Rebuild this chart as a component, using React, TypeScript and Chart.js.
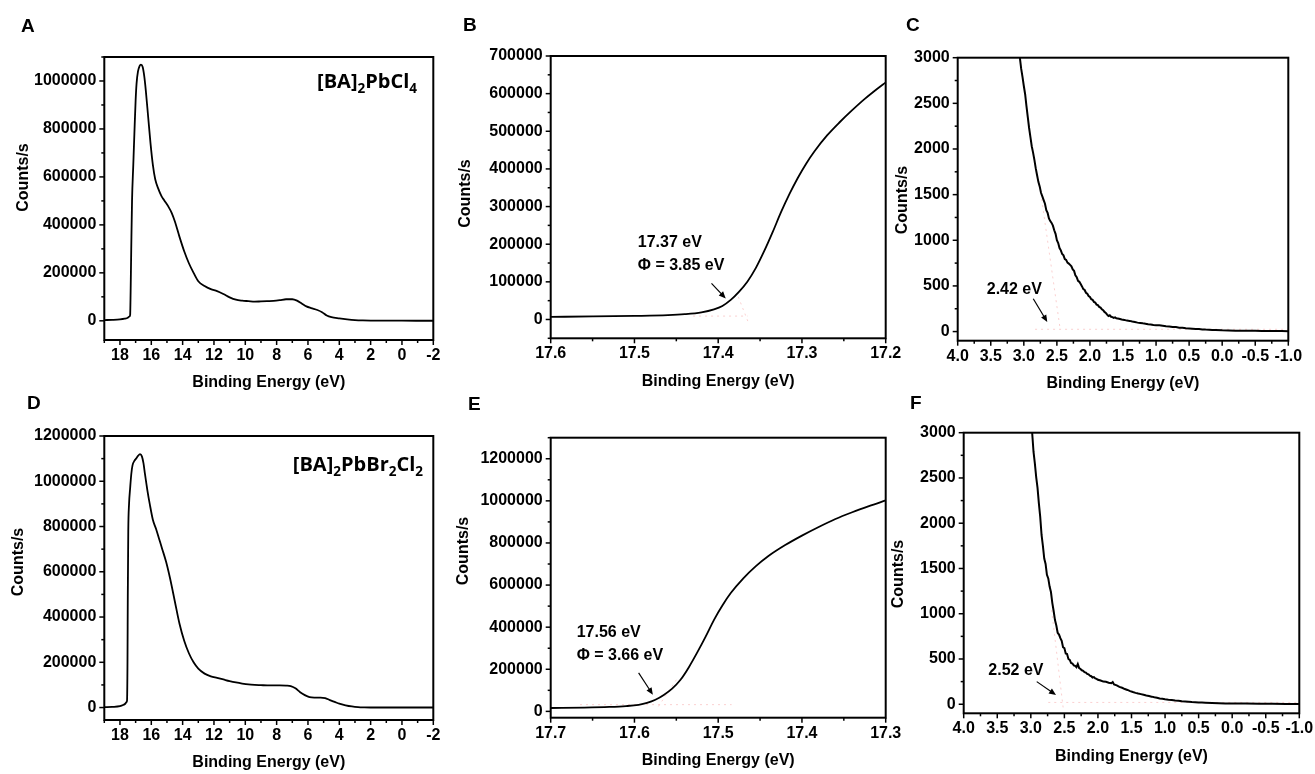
import React, { useEffect, useRef } from 'react';
import { Chart, registerables } from 'chart.js';
Chart.register(...registerables);

const FONT = 'Arial, "Liberation Sans", Helvetica, sans-serif';
const LABEL_FONT = '"Open Sans", Lato, sans-serif';

// ---------- Panel A : [BA]2PbCl4 full spectrum ----------
const energyA = [19.0, 18.5, 18.0, 17.7, 17.5, 17.4, 17.35, 17.32, 17.28, 17.23, 17.15, 17.08, 17.0, 16.94, 16.85, 16.75, 16.66, 16.55, 16.45, 16.35, 16.2, 16.05, 15.9, 15.75, 15.55, 15.35, 15.15, 14.9, 14.7, 14.5, 14.2, 13.9, 13.6, 13.3, 13.0, 12.6, 12.2, 11.8, 11.4, 11.0, 10.6, 10.2, 9.8, 9.4, 9.0, 8.6, 8.2, 7.8, 7.4, 7.0, 6.7, 6.4, 6.1, 5.8, 5.4, 5.1, 4.8, 4.5, 4.0, 3.5, 3.0, 2.5, 2.0, 1.0, 0.0, -2.0];
const countsA = [3000, 4000, 6000, 9000, 13000, 18000, 25000, 120000, 300000, 500000, 650000, 780000, 920000, 990000, 1040000, 1062000, 1068000, 1058000, 1020000, 960000, 850000, 740000, 650000, 590000, 550000, 520000, 500000, 475000, 450000, 415000, 350000, 290000, 240000, 200000, 165000, 145000, 132000, 124000, 112000, 98000, 88000, 84000, 82000, 80000, 81000, 82000, 83000, 86000, 90000, 90000, 84000, 72000, 60000, 53000, 45000, 36000, 22000, 15000, 10000, 6000, 3000, 1500, 800, 500, 400, 300];

// ---------- Panel B : [BA]2PbCl4 cut-off edge ----------
const energyB = [17.6, 17.55, 17.5, 17.46, 17.44, 17.42, 17.405, 17.395, 17.385, 17.375, 17.365, 17.355, 17.345, 17.335, 17.325, 17.315, 17.305, 17.295, 17.285, 17.27, 17.255, 17.24, 17.225, 17.21, 17.2];
const countsB = [7000, 8000, 9500, 11500, 14000, 19000, 27000, 36000, 52000, 74000, 101000, 137000, 182000, 232000, 285000, 333000, 376000, 414000, 447000, 489000, 524000, 556000, 586000, 613000, 630000];
// faint fitting guides (baseline and tangent) of the cut-off
const baselineB: [number, number][] = [[17.43, 9000], [17.365, 9000]];
const tangentB: [number, number][] = [[17.376, 60000], [17.364, -8000]];

// ---------- Panel C : [BA]2PbCl4 valence band onset (energy, counts) ----------
const spectrumC: [number, number][] = [
  [3.06, 3000], [3.04, 2880], [3.02, 2790], [3.0, 2690], [2.98, 2600], [2.96, 2470], [2.94, 2350], [2.92, 2230],
  [2.9, 2130], [2.88, 2030], [2.86, 1960], [2.84, 1880], [2.82, 1790], [2.8, 1715], [2.78, 1640], [2.76, 1590],
  [2.74, 1520], [2.72, 1480], [2.7, 1440], [2.68, 1400], [2.66, 1330], [2.64, 1300], [2.62, 1240], [2.6, 1210],
  [2.58, 1190], [2.56, 1160], [2.54, 1110], [2.52, 1070], [2.5, 1000], [2.48, 970], [2.46, 915], [2.44, 890],
  [2.42, 850], [2.4, 835], [2.38, 795], [2.36, 785], [2.34, 755], [2.32, 745], [2.3, 730], [2.28, 715],
  [2.26, 680], [2.24, 665], [2.22, 615], [2.2, 595], [2.18, 555], [2.16, 545], [2.14, 520], [2.12, 495],
  [2.1, 465], [2.08, 455], [2.06, 425], [2.04, 415], [2.02, 390], [2.0, 380], [1.98, 355], [1.96, 348],
  [1.94, 325], [1.92, 318], [1.9, 295], [1.88, 290], [1.86, 270], [1.84, 262], [1.82, 245], [1.8, 235],
  [1.78, 215], [1.76, 205], [1.74, 185], [1.72, 170], [1.7, 178], [1.68, 162], [1.66, 158], [1.64, 150],
  [1.62, 155], [1.6, 145], [1.56, 140], [1.52, 132], [1.48, 128], [1.44, 120], [1.4, 117], [1.36, 110],
  [1.32, 104], [1.28, 98], [1.24, 95], [1.2, 90], [1.16, 86], [1.12, 80], [1.08, 78], [1.04, 72],
  [1.0, 70], [0.95, 70], [0.9, 64], [0.85, 58], [0.8, 56], [0.75, 50], [0.7, 49], [0.65, 42],
  [0.6, 41], [0.55, 36], [0.5, 34], [0.45, 32], [0.4, 28], [0.35, 27], [0.3, 24], [0.25, 22],
  [0.2, 21], [0.15, 18], [0.1, 17], [0.0, 14], [-0.1, 13], [-0.2, 10], [-0.3, 10], [-0.4, 8],
  [-0.5, 8], [-0.6, 6], [-0.7, 6], [-0.8, 5], [-0.9, 5], [-1.0, 4],
];
const baselineC: [number, number][] = [[2.83, 25], [-1.0, 25]];
const tangentC: [number, number][] = [[2.73, 1450], [2.45, 25]];

// ---------- Panel D : [BA]2PbBr2Cl2 full spectrum ----------
const energyD = [19.0, 18.5, 18.0, 17.8, 17.65, 17.58, 17.55, 17.52, 17.5, 17.47, 17.42, 17.35, 17.28, 17.2, 17.08, 16.97, 16.85, 16.72, 16.6, 16.5, 16.4, 16.25, 16.1, 15.9, 15.7, 15.5, 15.3, 15.06, 14.8, 14.5, 14.2, 13.9, 13.6, 13.3, 13.0, 12.6, 12.2, 11.8, 11.4, 11.0, 10.6, 10.2, 9.8, 9.4, 9.0, 8.6, 8.2, 7.8, 7.4, 7.1, 6.8, 6.5, 6.2, 5.9, 5.6, 5.2, 4.9, 4.6, 4.3, 4.0, 3.6, 3.2, 2.8, 2.4, 2.0, 0.0, -2.0];
const countsD = [2000, 3000, 6000, 11000, 18000, 24000, 30000, 200000, 500000, 780000, 900000, 970000, 1030000, 1070000, 1090000, 1100000, 1112000, 1120000, 1110000, 1080000, 1030000, 960000, 900000, 830000, 790000, 745000, 700000, 645000, 570000, 470000, 370000, 295000, 240000, 200000, 172000, 150000, 138000, 131000, 124000, 117000, 111000, 106000, 102000, 100000, 99000, 98000, 98000, 98000, 97000, 95000, 85000, 68000, 55000, 46000, 44000, 44000, 42000, 33000, 25000, 17000, 10000, 5000, 2000, 800, 300, 200, 200];

// ---------- Panel E : [BA]2PbBr2Cl2 cut-off edge ----------
const energyE = [17.7, 17.66, 17.63, 17.61, 17.595, 17.585, 17.575, 17.565, 17.555, 17.545, 17.535, 17.525, 17.515, 17.505, 17.495, 17.485, 17.47, 17.455, 17.44, 17.42, 17.4, 17.38, 17.36, 17.34, 17.32, 17.3];
const countsE = [16000, 18000, 21000, 25000, 31000, 40000, 55000, 78000, 108000, 150000, 210000, 280000, 355000, 435000, 503000, 562000, 632000, 690000, 738000, 790000, 835000, 876000, 914000, 946000, 975000, 1002000];
const baselineE: [number, number][] = [[17.665, 32000], [17.484, 32000]];
const tangentE: [number, number][] = [[17.55, 150000], [17.574, 8000]];

// ---------- Panel F : [BA]2PbBr2Cl2 valence band onset (energy, counts) ----------
const spectrumF: [number, number][] = [
  [2.98, 3000], [2.96, 2790], [2.94, 2660], [2.92, 2510], [2.9, 2390], [2.88, 2220], [2.86, 2070], [2.84, 1870],
  [2.82, 1750], [2.8, 1610], [2.78, 1550], [2.76, 1430], [2.74, 1390], [2.72, 1300], [2.7, 1240], [2.68, 1120],
  [2.66, 1030], [2.64, 930], [2.62, 870], [2.6, 790], [2.58, 770], [2.56, 730], [2.54, 700], [2.52, 630],
  [2.5, 620], [2.48, 560], [2.46, 555], [2.44, 500], [2.42, 490], [2.4, 455], [2.38, 450], [2.36, 430],
  [2.34, 425], [2.32, 410], [2.3, 445], [2.28, 400], [2.26, 390], [2.24, 375], [2.22, 370], [2.2, 355],
  [2.18, 350], [2.16, 335], [2.14, 330], [2.12, 315], [2.1, 310], [2.08, 295], [2.06, 300], [2.04, 285],
  [2.02, 280], [2.0, 270], [1.96, 262], [1.92, 250], [1.88, 248], [1.84, 238], [1.8, 232], [1.78, 245],
  [1.76, 218], [1.72, 208], [1.68, 192], [1.64, 182], [1.6, 168], [1.56, 158], [1.52, 145], [1.48, 135],
  [1.44, 126], [1.4, 118], [1.36, 112], [1.32, 104], [1.28, 96], [1.24, 90], [1.2, 84], [1.16, 77],
  [1.12, 72], [1.08, 64], [1.04, 60], [1.0, 55], [0.95, 50], [0.9, 47], [0.85, 42], [0.8, 38],
  [0.75, 34], [0.7, 31], [0.65, 28], [0.6, 25], [0.55, 23], [0.5, 20], [0.45, 18], [0.4, 16],
  [0.3, 13], [0.2, 11], [0.1, 9], [0.0, 8], [-0.2, 7], [-0.4, 6], [-0.6, 5], [-0.8, 4], [-1.0, 4],
];
const baselineF: [number, number][] = [[2.74, 20], [-1.0, 20]];
const tangentF: [number, number][] = [[2.69, 1040], [2.515, -60]];

// ---------- Tick values ----------
const ticksXWide = [18, 16, 14, 12, 10, 8, 6, 4, 2, 0, -2];
const ticksYA = [0, 200000, 400000, 600000, 800000, 1000000];
const ticksYD = [0, 200000, 400000, 600000, 800000, 1000000, 1200000];
const ticksXB = [17.6, 17.5, 17.4, 17.3, 17.2];
const ticksYB = [0, 100000, 200000, 300000, 400000, 500000, 600000, 700000];
const ticksXE = [17.7, 17.6, 17.5, 17.4, 17.3];
const ticksYE = [0, 200000, 400000, 600000, 800000, 1000000, 1200000];
const ticksXVB = [4.0, 3.5, 3.0, 2.5, 2.0, 1.5, 1.0, 0.5, 0.0, -0.5, -1.0];
const ticksYVB = [0, 500, 1000, 1500, 2000, 2500, 3000];

const xTitle = 'Binding Energy (eV)';
const yTitle = 'Counts/s';

type Pt = { x: number; y: number };
type Rect = { x: number; y: number; w: number; h: number };
type Area = { l: number; t: number; r: number; b: number };
type Ann = { lines: string[]; x: number; ys: number[]; arrow: [number, number, number, number] };
type Panel = {
  letter: string;
  canvas: Rect;
  area: Area;
  xMin: number; xMax: number; yMin: number; yMax: number;
  xTicks: number[]; yTicks: number[]; xDec: number;
  points: Pt[]; smooth: boolean;
  guides: Pt[][];
  letterPos: [number, number];
  yTitlePos: [number, number];
  compound?: { parts: [string, boolean][]; right: number; baseline: number };
  ann?: Ann;
};

const zip = (xs: number[], ys: number[]): Pt[] => xs.map((x, i) => ({ x, y: ys[i] }));
const fromPairs = (pairs: [number, number][]): Pt[] => pairs.map(([x, y]) => ({ x, y }));

const panels: Panel[] = [
  {
    letter: 'A', canvas: { x: 0, y: 0, w: 455, h: 395 }, area: { l: 104.3, t: 57, r: 433.3, b: 340 },
    xMin: -2, xMax: 19, yMin: -80000, yMax: 1100000, xTicks: ticksXWide, yTicks: ticksYA, xDec: 0,
    points: zip(energyA, countsA), smooth: true, guides: [], letterPos: [21, 32], yTitlePos: [24, 177.5],
    compound: { parts: [['[BA]', false], ['2', true], ['PbCl', false], ['4', true]], right: 417, baseline: 88 },
  },
  {
    letter: 'B', canvas: { x: 440, y: 0, w: 470, h: 395 }, area: { l: 550.7, t: 56, r: 885.7, b: 338.3 },
    xMin: 17.2, xMax: 17.6, yMin: -50000, yMax: 700000, xTicks: ticksXB, yTicks: ticksYB, xDec: 1,
    points: zip(energyB, countsB), smooth: true, guides: [fromPairs(baselineB), fromPairs(tangentB)],
    letterPos: [463, 31], yTitlePos: [466, 193.5],
    ann: { lines: ['17.37 eV', 'Φ = 3.85 eV'], x: 17.496, ys: [203000, 143000], arrow: [17.408, 95700, 17.391, 55900] },
  },
  {
    letter: 'C', canvas: { x: 880, y: 0, w: 435, h: 395 }, area: { l: 957.7, t: 57.7, r: 1288.3, b: 340.7 },
    xMin: -1, xMax: 4, yMin: -100, yMax: 3000, xTicks: ticksXVB, yTicks: ticksYVB, xDec: 1,
    points: fromPairs(spectrumC), smooth: false, guides: [fromPairs(baselineC), fromPairs(tangentC)],
    letterPos: [906, 31], yTitlePos: [903, 200],
    ann: { lines: ['2.42 eV'], x: 3.561, ys: [462], arrow: [2.857, 360, 2.645, 105] },
  },
  {
    letter: 'D', canvas: { x: 0, y: 385, w: 455, h: 389 }, area: { l: 104.3, t: 436, r: 433.3, b: 720 },
    xMin: -2, xMax: 19, yMin: -55000, yMax: 1200000, xTicks: ticksXWide, yTicks: ticksYD, xDec: 0,
    points: zip(energyD, countsD), smooth: true, guides: [], letterPos: [27, 409], yTitlePos: [19, 562],
    compound: { parts: [['[BA]', false], ['2', true], ['PbBr', false], ['2', true], ['Cl', false], ['2', true]], right: 423, baseline: 471 },
  },
  {
    letter: 'E', canvas: { x: 440, y: 385, w: 470, h: 389 }, area: { l: 550.7, t: 437.7, r: 885.7, b: 717.7 },
    xMin: 17.3, xMax: 17.7, yMin: -30000, yMax: 1300000, xTicks: ticksXE, yTicks: ticksYE, xDec: 1,
    points: zip(energyE, countsE), smooth: true, guides: [fromPairs(baselineE), fromPairs(tangentE)],
    letterPos: [468, 410], yTitlePos: [464, 551],
    ann: { lines: ['17.56 eV', 'Φ = 3.66 eV'], x: 17.669, ys: [372800, 263400], arrow: [17.595, 182600, 17.578, 79400] },
  },
  {
    letter: 'F', canvas: { x: 880, y: 385, w: 435, h: 389 }, area: { l: 963.7, t: 432.7, r: 1299.3, b: 713.3 },
    xMin: -1, xMax: 4, yMin: -100, yMax: 3000, xTicks: ticksXVB, yTicks: ticksYVB, xDec: 1,
    points: fromPairs(spectrumF), smooth: false, guides: [fromPairs(baselineF), fromPairs(tangentF)],
    letterPos: [910, 409], yTitlePos: [899, 574],
    ann: { lines: ['2.52 eV'], x: 3.633, ys: [370], arrow: [2.912, 250, 2.625, 103] },
  },
];

function minorTicks(majors: number[], lo: number, hi: number): number[] {
  const step = majors[1] - majors[0];
  const out: number[] = [];
  const all = [majors[0] - step, ...majors];
  const a = Math.min(lo, hi) - 1e-9;
  const b = Math.max(lo, hi) + 1e-9;
  for (const m of all) {
    const v = m + step / 2;
    if (v >= a && v <= b) out.push(v);
  }
  return out;
}

function decoPlugin(p: Panel) {
  return {
    id: 'deco' + p.letter,
    afterDraw(chart: any) {
      const ctx: CanvasRenderingContext2D = chart.ctx;
      const a = chart.chartArea;
      const sx = chart.scales.x;
      const sy = chart.scales.y;
      const ox = p.canvas.x;
      const oy = p.canvas.y;
      ctx.save();
      ctx.strokeStyle = '#000';
      ctx.fillStyle = '#000';
      // frame
      ctx.lineWidth = 2;
      ctx.strokeRect(a.left, a.top, a.right - a.left, a.bottom - a.top);
      // ticks
      ctx.lineWidth = 1.5;
      const xTick = (v: number, len: number) => {
        const px = sx.getPixelForValue(v);
        ctx.beginPath();
        ctx.moveTo(px, a.bottom);
        ctx.lineTo(px, a.bottom + len);
        ctx.stroke();
      };
      const yTick = (v: number, len: number) => {
        const py = sy.getPixelForValue(v);
        ctx.beginPath();
        ctx.moveTo(a.left, py);
        ctx.lineTo(a.left - len, py);
        ctx.stroke();
      };
      p.xTicks.forEach((v) => xTick(v, 5));
      minorTicks(p.xTicks, p.xMin, p.xMax).forEach((v) => xTick(v, 3));
      p.yTicks.forEach((v) => yTick(v, 5));
      minorTicks(p.yTicks, p.yMin, p.yMax).forEach((v) => yTick(v, 3));

      // axis titles
      ctx.font = `bold 16px ${FONT}`;
      ctx.textAlign = 'center';
      ctx.textBaseline = 'middle';
      ctx.fillText(xTitle, (a.left + a.right) / 2, a.bottom + 43);
      ctx.save();
      ctx.translate(p.yTitlePos[0] - ox, p.yTitlePos[1] - oy);
      ctx.rotate(-Math.PI / 2);
      ctx.fillText(yTitle, 0, 0);
      ctx.restore();

      // panel letter
      ctx.font = `bold 19px ${FONT}`;
      ctx.textAlign = 'left';
      ctx.textBaseline = 'alphabetic';
      ctx.fillText(p.letter, p.letterPos[0] - ox, p.letterPos[1] - oy);

      // compound label
      if (p.compound) {
        const mainF = `bold 20px ${LABEL_FONT}`;
        const subF = `bold 13.5px ${LABEL_FONT}`;
        let total = 0;
        const widths = p.compound.parts.map(([t, sub]) => {
          ctx.font = sub ? subF : mainF;
          const w = ctx.measureText(t).width;
          total += w;
          return w;
        });
        let x = p.compound.right - ox - total;
        const base = p.compound.baseline - oy;
        p.compound.parts.forEach(([t, sub], i) => {
          ctx.font = sub ? subF : mainF;
          ctx.fillText(t, x, sub ? base + 5 : base);
          x += widths[i];
        });
      }

      // annotation
      if (p.ann) {
        const an = p.ann;
        ctx.font = `bold 16px ${FONT}`;
        ctx.textAlign = 'left';
        ctx.textBaseline = 'middle';
        const tx = sx.getPixelForValue(an.x);
        an.lines.forEach((ln, i) => ctx.fillText(ln, tx, sy.getPixelForValue(an.ys[i])));
        const x1 = sx.getPixelForValue(an.arrow[0]);
        const y1 = sy.getPixelForValue(an.arrow[1]);
        const x2 = sx.getPixelForValue(an.arrow[2]);
        const y2 = sy.getPixelForValue(an.arrow[3]);
        const ang = Math.atan2(y2 - y1, x2 - x1);
        const hl = 7;
        const hw = 3;
        ctx.lineWidth = 1.2;
        ctx.beginPath();
        ctx.moveTo(x1, y1);
        ctx.lineTo(x2 - Math.cos(ang) * hl * 0.8, y2 - Math.sin(ang) * hl * 0.8);
        ctx.stroke();
        ctx.beginPath();
        ctx.moveTo(x2, y2);
        ctx.lineTo(x2 - Math.cos(ang) * hl + Math.sin(ang) * hw, y2 - Math.sin(ang) * hl - Math.cos(ang) * hw);
        ctx.lineTo(x2 - Math.cos(ang) * hl - Math.sin(ang) * hw, y2 - Math.sin(ang) * hl + Math.cos(ang) * hw);
        ctx.closePath();
        ctx.fill();
      }
      ctx.restore();
    },
  };
}

function PanelChart({ p }: { p: Panel }) {
  const ref = useRef<HTMLCanvasElement | null>(null);
  useEffect(() => {
    if (!ref.current) return;
    const tickFont = { family: FONT, size: 16, weight: 'bold' as const };
    const guideSets = p.guides.map((g) => ({
      data: g,
      borderColor: 'rgba(240, 120, 120, 0.35)',
      borderWidth: 1,
      borderDash: [2, 4],
      pointRadius: 0,
      fill: false,
      tension: 0,
    }));
    const chart = new Chart(ref.current, {
      type: 'line',
      data: {
        datasets: [
          {
            data: p.points,
            borderColor: '#000',
            borderWidth: p.smooth ? 1.8 : 2,
            pointRadius: 0,
            fill: false,
            tension: 0,
            cubicInterpolationMode: p.smooth ? 'monotone' : 'default',
          },
          ...guideSets,
        ],
      },
      options: {
        responsive: false,
        animation: false,
        devicePixelRatio: 1,
        events: [],
        layout: {
          padding: {
            left: 0,
            top: p.area.t - p.canvas.y,
            right: p.canvas.x + p.canvas.w - p.area.r,
            bottom: 0,
          },
        },
        plugins: { legend: { display: false }, tooltip: { enabled: false }, title: { display: false } },
        scales: {
          x: {
            type: 'linear',
            reverse: true,
            min: p.xMin,
            max: p.xMax,
            grid: { display: false, drawTicks: true, tickLength: 5 },
            border: { display: false },
            ticks: {
              autoSkip: false,
              maxRotation: 0,
              minRotation: 0,
              padding: 1,
              color: '#000',
              font: tickFont,
              callback: (v: any) => Number(v).toFixed(p.xDec),
            },
            afterBuildTicks: (ax: any) => {
              ax.ticks = p.xTicks.map((v) => ({ value: v }));
            },
            afterFit: (ax: any) => {
              ax.height = p.canvas.y + p.canvas.h - p.area.b;
            },
          },
          y: {
            type: 'linear',
            min: p.yMin,
            max: p.yMax,
            grid: { display: false, drawTicks: true, tickLength: 5 },
            border: { display: false },
            ticks: {
              autoSkip: false,
              padding: 3,
              color: '#000',
              font: tickFont,
              callback: (v: any) => String(Math.round(Number(v))),
            },
            afterBuildTicks: (ax: any) => {
              ax.ticks = p.yTicks.map((v) => ({ value: v }));
            },
            afterFit: (ax: any) => {
              ax.width = p.area.l - p.canvas.x;
            },
          },
        },
      } as any,
      plugins: [decoPlugin(p)],
    });
    return () => chart.destroy();
  }, [p]);
  return (
    <canvas
      ref={ref}
      width={p.canvas.w}
      height={p.canvas.h}
      style={{ position: 'absolute', left: p.canvas.x, top: p.canvas.y, width: p.canvas.w, height: p.canvas.h }}
    />
  );
}

export default function App() {
  return (
    <div style={{ position: 'absolute', left: 0, top: 0, width: 1315, height: 774, background: '#fff', overflow: 'hidden' }}>
      {panels.map((p) => (
        <PanelChart key={p.letter} p={p} />
      ))}
    </div>
  );
}
